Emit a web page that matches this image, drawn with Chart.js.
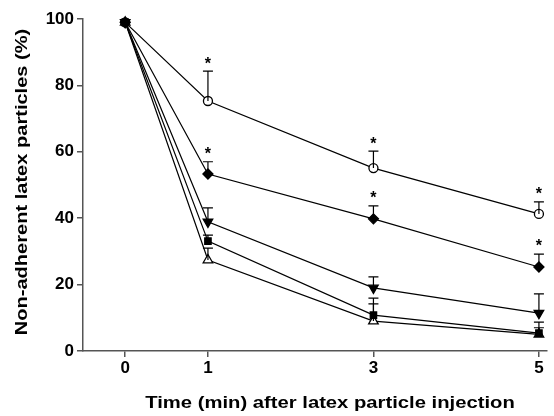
<!DOCTYPE html>
<html>
<head>
<meta charset="utf-8">
<script src="https://cdn.jsdelivr.net/npm/chart.js@4/dist/chart.umd.min.js"></script>
<style>
html,body{margin:0;padding:0;background:#fff;}
#wrap{width:554px;height:416px;position:relative;}
</style>
</head>
<body>
<div id="wrap"><canvas id="c" width="554" height="416"></canvas></div>
<script>
const times = [0, 1, 3, 5];
const xTicks = [0, 1, 3, 5];
const yTicks = [0, 20, 40, 60, 80, 100];
const xTitle = 'Time (min) after latex particle injection';
const yTitle = 'Non-adherent latex particles (%)';

const openCircle = [99, 75.3, 55.1, 41.3];
const openCircleErr = [0, 9.0, 5.1, 3.6];
const filledDiamond = [99, 53.3, 39.8, 25.3];
const filledDiamondErr = [0, 3.7, 3.9, 3.9];
const filledDownTri = [99, 38.9, 19.0, 11.4];
const filledDownTriErr = [0, 4.2, 3.3, 5.8];
const filledSquare = [99, 33.1, 10.8, 5.4];
const filledSquareErr = [0, 1.8, 3.4, 3.3];
const openTri = [99, 27.4, 9.0, 5.0];
const openTriErr = [0, 3.6, 6.9, 2.0];

const starsCircle = [false, true, true, true];
const starsDiamond = [false, true, true, true];

function pts(vals){ return times.map((t,i)=>({x:t, y:vals[i]})); }

const FONT = "'Liberation Sans', Arial, sans-serif";

function ds(label, vals, err, stars, style, fill, radius, rotation){
  return {
    label, data: pts(vals), err, stars,
    borderColor:'#000', borderWidth:1.2,
    pointStyle: style, pointRadius: radius, pointHoverRadius: radius,
    pointRotation: rotation||0,
    pointBackgroundColor: fill, pointBorderColor:'#000', pointBorderWidth:1.3,
    tension:0, clip:false, fill:false
  };
}

const errPlugin = {
  id:'errbars',
  afterDatasetsDraw(chart){
    const ctx = chart.ctx;
    const xs = chart.scales.x, ys = chart.scales.y;
    ctx.save();
    ctx.strokeStyle = '#000';
    ctx.lineWidth = 1.2;
    chart.data.datasets.forEach(d=>{
      d.data.forEach((p,i)=>{
        const e = d.err[i];
        const px = xs.getPixelForValue(p.x);
        const py = ys.getPixelForValue(p.y);
        if (e > 0){
          const pt = ys.getPixelForValue(p.y + e);
          ctx.beginPath();
          ctx.moveTo(px, py); ctx.lineTo(px, pt);
          ctx.moveTo(px-5, pt); ctx.lineTo(px+5, pt);
          ctx.stroke();
        }
        if (d.stars && d.stars[i]){
          const pt = ys.getPixelForValue(p.y + e);
          ctx.fillStyle = '#000';
          ctx.font = "bold 16px " + FONT;
          ctx.textAlign = 'center';
          ctx.textBaseline = 'middle';
          ctx.fillText('*', px, pt - 7);
        }
      });
    });
    ctx.restore();
  }
};

const titlePlugin = {
  id:'titles',
  afterDraw(chart){
    const ctx = chart.ctx;
    ctx.save();
    ctx.fillStyle = '#000';
    ctx.font = "bold 17px " + FONT;
    ctx.textAlign = 'center';
    ctx.textBaseline = 'middle';
    ctx.save();
    ctx.translate(330, 403);
    ctx.scale(1.19, 1);
    ctx.fillText(xTitle, 0, 0);
    ctx.restore();
    ctx.save();
    ctx.translate(22, 182);
    ctx.rotate(-Math.PI/2);
    ctx.scale(1.18, 1);
    ctx.fillText(yTitle, 0, 0);
    ctx.restore();
    ctx.restore();
  }
};

new Chart(document.getElementById('c'), {
  type:'line',
  data:{
    datasets:[
      ds('diamond', filledDiamond, filledDiamondErr, starsDiamond, 'rectRot', '#000', 5, 0),
      ds('downTri', filledDownTri, filledDownTriErr, null, 'triangle', '#000', 5.5, 180),
      ds('square', filledSquare, filledSquareErr, null, 'rect', '#000', 4.5, 0),
      ds('circle', openCircle, openCircleErr, starsCircle, 'circle', '#fff', 4.5, 0),
      ds('openTri', openTri, openTriErr, null, 'triangle', '#fff', 5.5, 0)
    ]
  },
  options:{
    responsive:false,
    animation:false,
    events:[],
    layout:{padding:{left:0,right:0,top:19,bottom:0}},
    plugins:{legend:{display:false}, tooltip:{enabled:false}},
    scales:{
      x:{
        type:'linear', min:-0.51, max:5.1,
        afterBuildTicks(s){ s.ticks = xTicks.map(v=>({value:v})); },
        grid:{display:true, drawOnChartArea:false, drawTicks:true, tickLength:6, color:'#555', lineWidth:1.5},
        border:{display:true, color:'#555', width:1.5},
        ticks:{color:'#000', font:{family:FONT, weight:'bold', size:17}, padding:1, autoSkip:false, maxRotation:0},
        title:{display:false},
        afterFit(s){ s.height = 65; }
      },
      y:{
        type:'linear', min:0, max:100,
        afterBuildTicks(s){ s.ticks = yTicks.map(v=>({value:v})); },
        grid:{display:true, drawOnChartArea:false, drawTicks:true, tickLength:6, color:'#555', lineWidth:1.5},
        border:{display:true, color:'#555', width:1.5},
        ticks:{color:'#000', font:{family:FONT, weight:'bold', size:17}, padding:3},
        title:{display:false},
        afterFit(s){ s.width = 83; }
      }
    }
  },
  plugins:[errPlugin, titlePlugin]
});
</script>
</body>
</html>
